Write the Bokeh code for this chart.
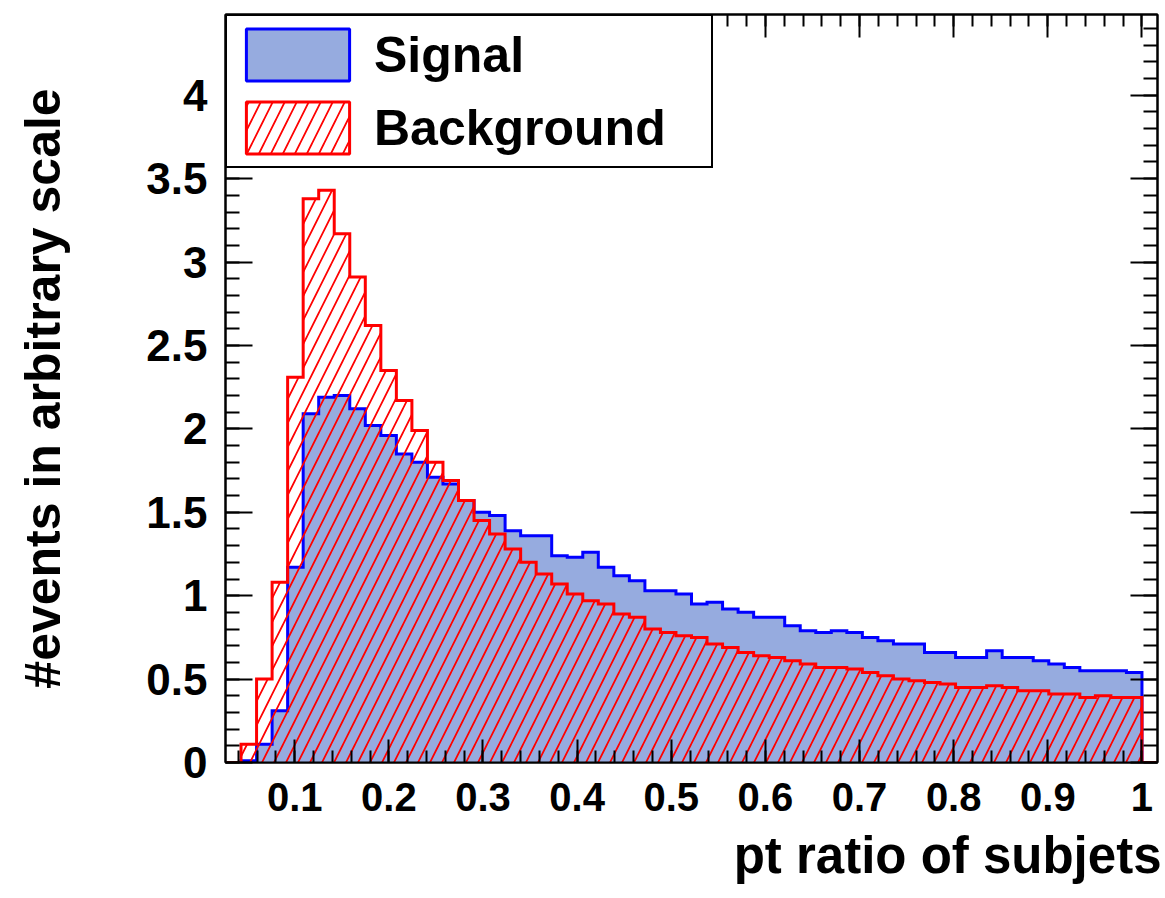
import numpy as np
from bokeh.plotting import figure
from bokeh.models import (Range1d, FixedTicker, LinearAxis, Legend, LegendItem, Title,
                          CustomLabelingPolicy)
from bokeh.embed import file_html
from bokeh.resources import INLINE

# Histogram binning: 60 equal bins, the last one ending just past x = 1
x_low = 0.0265
bin_width = 0.0165
n_bins = 60

# Normalised bin contents (arbitrary scale)
signal = [
    0.00, 0.01, 0.11, 0.31, 1.17, 2.09, 2.19, 2.20, 2.12, 2.02,
    1.96, 1.85, 1.80, 1.71, 1.67, 1.57, 1.50, 1.48, 1.39, 1.36,
    1.36, 1.24, 1.23, 1.26, 1.17, 1.12, 1.09, 1.03, 1.03, 1.01,
    0.95, 0.96, 0.92, 0.90, 0.87, 0.87, 0.82, 0.79, 0.78, 0.79,
    0.78, 0.75, 0.73, 0.71, 0.71, 0.66, 0.66, 0.63, 0.63, 0.67,
    0.63, 0.63, 0.61, 0.59, 0.57, 0.55, 0.55, 0.55, 0.54, 0.00,
]
background = [
    0.00, 0.11, 0.50, 1.08, 2.31, 3.38, 3.43, 3.17, 2.91, 2.62,
    2.35, 2.17, 1.99, 1.80, 1.69, 1.57, 1.45, 1.37, 1.28, 1.20,
    1.13, 1.07, 1.01, 0.97, 0.95, 0.89, 0.87, 0.80, 0.78, 0.76,
    0.75, 0.71, 0.69, 0.66, 0.64, 0.63, 0.61, 0.59, 0.57, 0.57,
    0.56, 0.54, 0.52, 0.50, 0.49, 0.48, 0.47, 0.45, 0.45, 0.46,
    0.45, 0.43, 0.43, 0.41, 0.41, 0.39, 0.40, 0.39, 0.39, 0.00,
]

x_ticks = [0.1, 0.2, 0.3, 0.4, 0.5, 0.6, 0.7, 0.8, 0.9, 1.0]
x_tick_labels = ["0.1", "0.2", "0.3", "0.4", "0.5", "0.6", "0.7", "0.8", "0.9", "1"]
y_ticks = [0.0, 0.5, 1.0, 1.5, 2.0, 2.5, 3.0, 3.5, 4.0]
y_tick_labels = ["0", "0.5", "1", "1.5", "2", "2.5", "3", "3.5", "4"]

x_title = "pt ratio of subjets"
y_title = "#events in arbitrary scale"

edges = x_low + bin_width * np.arange(n_bins + 1)
x_minor = [round(v, 2) for v in np.arange(0.04, 1.001, 0.02)]
y_minor = [round(v, 1) for v in np.arange(0.0, 4.41, 0.1)]

FONT = "Liberation Sans"
SIG_FILL = "#96abdf"
HATCH = dict(hatch_pattern="/", hatch_color="red", hatch_scale=24, hatch_weight=1.7)

p = figure(
    width=1165, height=898,
    x_range=Range1d(x_low, edges[-1]), y_range=Range1d(0, 4.484),
    output_backend="svg", toolbar_location=None,
    min_border_left=225, min_border_right=8, min_border_top=14, min_border_bottom=136,
)
p.xgrid.visible = False
p.ygrid.visible = False
p.outline_line_color = "black"
p.outline_line_width = 2
p.background_fill_color = "white"
p.border_fill_color = "white"

sig_y = signal + [signal[-1]]
bkg_y = background + [background[-1]]
zeros = [0.0] * (n_bins + 1)

# Signal: filled step histogram
p.varea_step(x=edges, y1=zeros, y2=sig_y, step_mode="after",
             fill_color=SIG_FILL, fill_alpha=1.0)
p.step(x=edges, y=sig_y, mode="after", line_color="blue", line_width=3,
       line_join="miter")

# Background: hatched step histogram on top
p.varea_step(x=edges, y1=zeros, y2=bkg_y, step_mode="after",
             fill_color=None, fill_alpha=0, **HATCH)
p.step(x=edges, y=bkg_y, mode="after", line_color="red", line_width=3,
       line_join="miter")

# Hidden bar renderers that only supply the boxed legend swatches
sig_key = p.quad(left=edges[:-1], right=edges[1:], top=signal, bottom=0,
                 fill_color=SIG_FILL, line_color="blue", line_width=3, visible=False)
bkg_key = p.quad(left=edges[:-1], right=edges[1:], top=background, bottom=0,
                 fill_color=None, fill_alpha=0, line_color="red", line_width=3,
                 visible=False, **HATCH)

legend = Legend(
    items=[LegendItem(label="Signal", renderers=[sig_key]),
           LegendItem(label="Background", renderers=[bkg_key])],
    location="top_left", margin=0, padding=6, spacing=8,
    glyph_width=129, glyph_height=65, label_standoff=12, label_width=331,
    label_text_font=FONT, label_text_font_style="bold", label_text_font_size="50px",
    label_text_color="black",
    border_line_color="black", border_line_width=2, border_line_alpha=1.0,
    background_fill_color="white", background_fill_alpha=1.0,
    inactive_fill_alpha=0.0, click_policy="none",
)
legend.level = "image"
p.add_layout(legend)

x_over = {v: s for v, s in zip(x_ticks, x_tick_labels)}
y_over = {v: s for v, s in zip(y_ticks, y_tick_labels)}

# Mirror axes carry ticks only
no_labels = CustomLabelingPolicy(code="""
for (const i of indices) { indices.unset(i) }
return indices
""")


def style_x(ax, labels):
    ax.ticker = FixedTicker(ticks=x_ticks, minor_ticks=x_minor)
    ax.major_tick_in = 23
    ax.major_tick_out = 0
    ax.minor_tick_in = 12
    ax.minor_tick_out = 0
    ax.axis_line_width = 2
    ax.major_tick_line_width = 2
    ax.minor_tick_line_width = 2
    if labels:
        ax.major_label_overrides = x_over
        ax.major_label_text_font = FONT
        ax.major_label_text_font_style = "bold"
        ax.major_label_text_font_size = "40px"
        ax.major_label_text_color = "black"
        ax.major_label_standoff = 20
    else:
        ax.major_label_policy = no_labels
        ax.major_label_text_font_size = "1px"
        ax.major_label_standoff = 0


def style_y(ax, labels):
    ax.ticker = FixedTicker(ticks=y_ticks, minor_ticks=y_minor)
    ax.major_tick_in = 27
    ax.major_tick_out = 0
    ax.minor_tick_in = 14
    ax.minor_tick_out = 0
    ax.axis_line_width = 2
    ax.major_tick_line_width = 2
    ax.minor_tick_line_width = 2
    if labels:
        ax.major_label_overrides = y_over
        ax.major_label_text_font = FONT
        ax.major_label_text_font_style = "bold"
        ax.major_label_text_font_size = "44px"
        ax.major_label_text_color = "black"
        ax.major_label_standoff = 18
    else:
        ax.major_label_policy = no_labels
        ax.major_label_text_font_size = "1px"
        ax.major_label_standoff = 0


style_x(p.xaxis[0], True)
style_y(p.yaxis[0], True)
p.yaxis[0].axis_label = y_title
p.yaxis[0].axis_label_text_font = FONT
p.yaxis[0].axis_label_text_font_style = "bold"
p.yaxis[0].axis_label_text_font_size = "50px"
p.yaxis[0].axis_label_text_color = "black"
p.yaxis[0].axis_label_standoff = 72

top_ax = LinearAxis()
style_x(top_ax, False)
p.add_layout(top_ax, "above")
right_ax = LinearAxis()
style_y(right_ax, False)
p.add_layout(right_ax, "right")

# x-axis title, right-aligned under the end of the axis
p.add_layout(Title(text=x_title, align="right", text_font=FONT, text_font_style="bold",
                   text_font_size="51px", text_color="black", offset=-4, standoff=22),
             "below")

open("out.html", "w").write(file_html(p, INLINE))
